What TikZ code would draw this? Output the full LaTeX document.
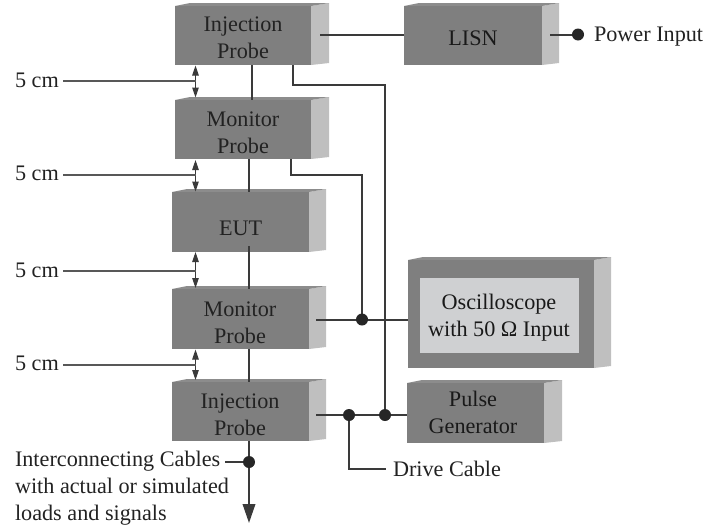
\documentclass[tikz,border=0pt]{standalone}
\usepackage{fontspec}
\setmainfont{Liberation Serif}
\usetikzlibrary{arrows.meta}
\definecolor{frontc}{HTML}{7F7F7F}
\definecolor{topc}{HTML}{8C8C8C}
\definecolor{sidec}{HTML}{BFBFBF}
\definecolor{screenc}{HTML}{CFD0D2}
\definecolor{wirec}{HTML}{3A3A3A}
\definecolor{inkc}{HTML}{222222}
\newcommand{\cubebox}[6]{%
  \fill[sidec] (#4,#3) -- (#6,#3-3) -- (#6,#5-2) -- (#4,#5) -- cycle;
  \fill[topc] (#2,#3) -- (#2+15,#3-3) -- (#6,#3-3) -- (#4,#3) -- cycle;
  \node[front,minimum width={(#4-#2)*1pt},minimum height={(#5-#3)*1pt}] (#1) at ({(#2+#4)/2},{(#3+#5)/2}) {};
}
\tikzset{
  front/.style={fill=frontc,draw=none,inner sep=0pt,outer sep=0pt},
  lab/.style={font=\fontsize{22.2}{26.5}\selectfont,text=inkc,inner sep=0pt,outer sep=0pt,align=center,anchor=base},
  leftlab/.style={lab,align=left,anchor=base west},
  dimlab/.style={lab,text=black!80!frontc},
  wire/.style={draw=wirec,line width=2pt},
  thin wire/.style={draw=wirec!85!white,line width=1.4pt},
  junction/.style={circle,fill=black!85,draw=none,minimum size=12pt,inner sep=0pt,outer sep=0pt},
  gap/.style={draw=wirec,line width=1pt,{Triangle[length=10pt,width=6.5pt]}-{Triangle[length=10pt,width=6.5pt]}},
  downarrow/.style={wire,-{Triangle[length=19pt,width=12.5pt]}}
}
\begin{document}
\begin{tikzpicture}[x=1pt,y=-1pt]
\useasboundingbox (0,0) rectangle (704,525);
% boxes
\cubebox{injA}{175}{6}{311}{65}{329}
\cubebox{monA}{175}{100}{311}{159}{329}
\cubebox{eut}{172}{192}{309}{252}{326}
\cubebox{monB}{172}{289}{309}{349}{326}
\cubebox{injB}{172}{382}{309}{441}{326}
\cubebox{lisn}{404}{6}{542}{65}{559}
\cubebox{scope}{408}{260}{594}{368}{611}
\cubebox{pulse}{407}{383}{544}{443}{562}
\node[fill=screenc,inner sep=0pt,outer sep=0pt,minimum width=159pt,minimum height=75pt] (screen) at (499.5,315.5) {};
% named points
\coordinate (dotScope) at (362,319.5);
\coordinate (dotPulse) at (385,415);
\coordinate (dotDrive) at (349,415);
\coordinate (dotCable) at (249,462);
\coordinate (dotPower) at (578,34.5);
\coordinate (injAout) at (320,35);
\coordinate (monBout) at (316,319.5);
\coordinate (injBout) at (316,415);
\coordinate (lisnout) at (550,34.5);
\coordinate (eutout) at (249,246);
\coordinate (cableend) at (249,523);
\coordinate (cornerA) at (293,85);
\coordinate (cornerA2) at (385,85);
\coordinate (cornerB) at (291,174.7);
\coordinate (cornerB2) at (362,174.7);
\coordinate (driveturn) at (349,469);
\coordinate (driveend) at (386,469);
\coordinate (cablelabel) at (225,462);
% wires
\draw[wire] (injAout) -- (injAout -| lisn.west);
\draw[wire] (lisnout) -- (dotPower);
\draw[wire] (cornerA |- injA.south) -- (cornerA) -- (cornerA2) -- (dotPulse);
\draw[wire] (cornerB |- monA.south) -- (cornerB) -- (cornerB2) -- (dotScope);
\draw[wire] (252,65) -- (252,100);
\draw[wire] (249,159) -- (249,192);
\draw[wire] (eutout) -- (eutout |- monB.north);
\draw[wire] (249,349) -- (249,382);
\draw[wire] (monBout) -- (monBout -| scope.west);
\draw[wire] (injBout) -- (injBout -| pulse.west);
\draw[wire] (dotDrive) -- (driveturn) -- (driveend);
\draw[downarrow] (249,441) -- (cableend);
\draw[wire] (cablelabel) -- (dotCable);
\foreach \p in {dotScope,dotPulse,dotDrive,dotCable,dotPower}
  \node[junction] (j\p) at (\p) {};
% gaps
\draw[gap] (195.5,65.5) -- (195.5,97.5);
\draw[gap] (195.5,160) -- (195.5,191.5);
\draw[gap] (195.5,252) -- (195.5,288);
\draw[gap] (195.5,349.5) -- (195.5,380);
\node[leftlab] (cmA) at (15,87) {5 cm};
\node[leftlab] (cmB) at (15,180.5) {5 cm};
\node[leftlab] (cmC) at (15,277) {5 cm};
\node[leftlab] (cmD) at (15,370) {5 cm};
\draw[thin wire] (63,81) -- (195.5,81);
\draw[thin wire] (63,175) -- (195.5,175);
\draw[thin wire] (63,271) -- (195.5,271);
\draw[thin wire] (63,365) -- (195.5,365);
% text
\node[lab] (tInjA) at (243,58) {Injection\\Probe};
\node[lab] (tMonA) at (243,153) {Monitor\\Probe};
\node[lab] (tEut) at (240.7,235) {EUT};
\node[lab] (tMonB) at (240,343) {Monitor\\Probe};
\node[lab] (tInjB) at (240,435) {Injection\\Probe};
\node[dimlab] (tLisn) at (473,45) {LISN};
\node[dimlab] (tPulse) at (473,433) {Pulse\\Generator};
\node[dimlab] (tScope) at (499,336) {Oscilloscope\\with 50 Ω Input};
\node[leftlab] (tPower) at (594,41) {Power Input};
\node[leftlab] (tDrive) at (393,476) {Drive Cable};
\node[leftlab] (tCableA) at (15,466) {Interconnecting Cables};
\node[leftlab] (tCableB) at (15,493.5) {with actual or simulated};
\node[leftlab] (tCableC) at (15,520) {loads and signals};
\end{tikzpicture}
\end{document}
